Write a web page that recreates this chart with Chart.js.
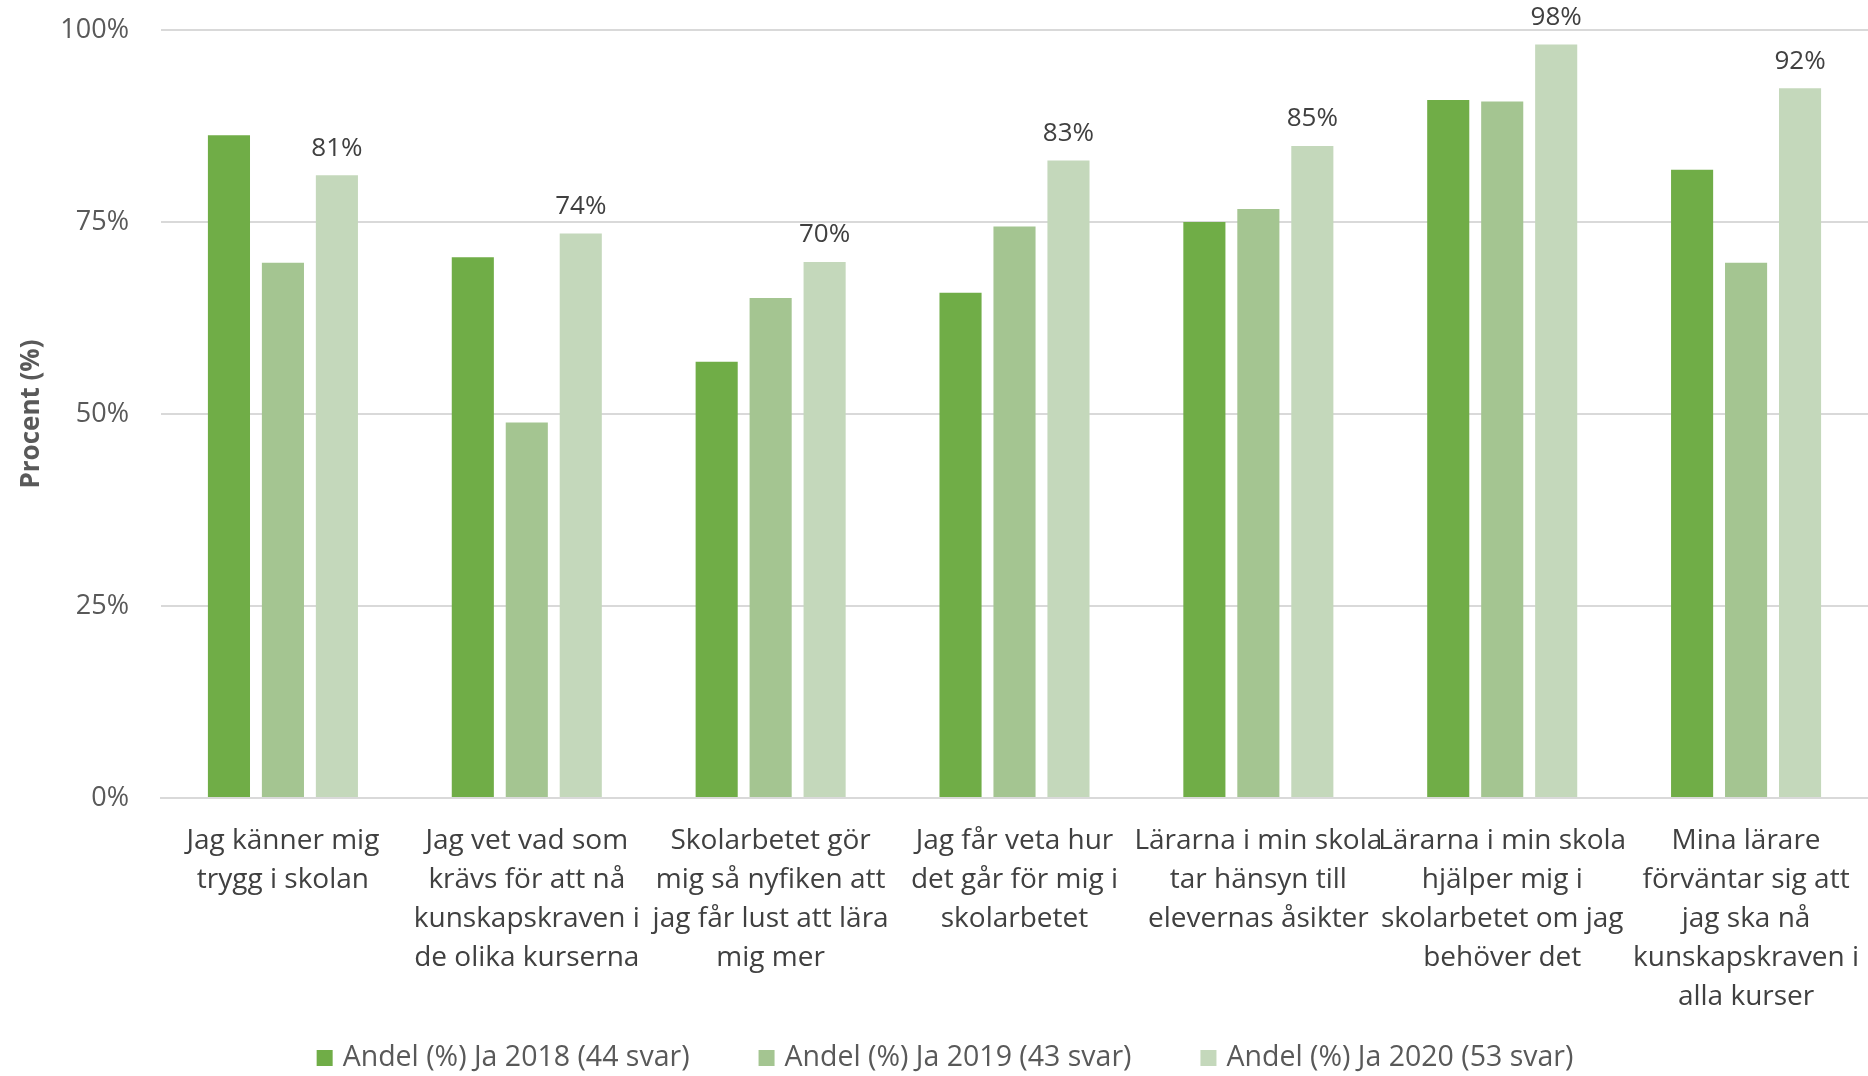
<!DOCTYPE html>
<html lang="sv">
<head>
<meta charset="utf-8">
<title>Andel Ja per påstående</title>
<script src="https://cdn.jsdelivr.net/npm/chart.js@4/dist/chart.umd.min.js"></script>
<style>
  html, body { margin: 0; padding: 0; background: #ffffff; }
  #wrap { width: 1868px; height: 1076px; }
</style>
</head>
<body>
<div id="wrap"><canvas id="chart" width="1868" height="1076"></canvas></div>
<script>
// Kategorier (radbrytningar som i originalet)
const categories = [
    ['Jag känner mig', 'trygg i skolan'],
    ['Jag vet vad som', 'krävs för att nå', 'kunskapskraven i', 'de olika kurserna'],
    ['Skolarbetet gör', 'mig så nyfiken att', 'jag får lust att lära', 'mig mer'],
    ['Jag får veta hur', 'det går för mig i', 'skolarbetet'],
    ['Lärarna i min skola', 'tar hänsyn till', 'elevernas åsikter'],
    ['Lärarna i min skola', 'hjälper mig i', 'skolarbetet om jag', 'behöver det'],
    ['Mina lärare', 'förväntar sig att', 'jag ska nå', 'kunskapskraven i', 'alla kurser']
];

// Serier (procent)
const seriesNames = ['Andel (%) Ja 2018 (44 svar)', 'Andel (%) Ja 2019 (43 svar)', 'Andel (%) Ja 2020 (53 svar)'];
const values2018 = [86.3, 70.4, 56.8, 65.8, 75.0, 90.9, 81.8];
const values2019 = [69.7, 48.9, 65.1, 74.4, 76.7, 90.7, 69.7];
const values2020 = [81.1, 73.5, 69.8, 83.0, 84.9, 98.1, 92.4];

// Y-axel
const yTicks = [0, 25, 50, 75, 100];
const yTitle = 'Procent (%)';

const seriesColors = ['#70ad47', '#a4c591', '#c4d8bb'];
const FONT = "'Open Sans', sans-serif";

// Etiketter ovanför 2020-staplarna
const valueLabels = {
    id: 'valueLabels',
    afterDatasetsDraw(chart) {
        const ctx = chart.ctx;
        const meta = chart.getDatasetMeta(2);
        ctx.save();
        ctx.font = '26px ' + FONT;
        ctx.fillStyle = '#404040';
        ctx.textAlign = 'center';
        ctx.textBaseline = 'middle';
        meta.data.forEach((bar, i) => {
            ctx.fillText(Math.round(values2020[i]) + '%', bar.x, bar.y - 27);
        });
        ctx.restore();
    }
};

// Förklaring längst ner (ritas själv för att få Excel-avstånden)
const bottomLegend = {
    id: 'bottomLegend',
    afterDraw(chart) {
        const ctx = chart.ctx;
        const box = 16, gapText = 10, gapItem = 69, shift = 11;
        const cy = chart.height - 18;
        ctx.save();
        ctx.font = '28.5px ' + FONT;
        ctx.textBaseline = 'middle';
        ctx.textAlign = 'left';
        const items = chart.data.datasets.map(ds => ({
            text: ds.label,
            color: ds.backgroundColor,
            w: box + gapText + ctx.measureText(ds.label).width
        }));
        const total = items.reduce((s, it) => s + it.w, 0) + gapItem * (items.length - 1);
        let x = (chart.width - total) / 2 + shift;
        items.forEach(it => {
            ctx.fillStyle = it.color;
            ctx.fillRect(x, cy - box / 2, box, box);
            ctx.fillStyle = '#595959';
            ctx.fillText(it.text, x + box + gapText, cy);
            x += it.w + gapItem;
        });
        ctx.restore();
    }
};

const ctx = document.getElementById('chart').getContext('2d');
new Chart(ctx, {
    type: 'bar',
    data: {
        labels: categories,
        datasets: [
            { label: seriesNames[0], data: values2018, backgroundColor: seriesColors[0] },
            { label: seriesNames[1], data: values2019, backgroundColor: seriesColors[1] },
            { label: seriesNames[2], data: values2020, backgroundColor: seriesColors[2] }
        ]
    },
    options: {
        responsive: false,
        animation: false,
        devicePixelRatio: 1,
        categoryPercentage: 0.664,
        barPercentage: 0.78,
        layout: { padding: { top: 30, right: 0, bottom: 48, left: 0 } },
        scales: {
            x: {
                grid: { display: false, drawTicks: false },
                border: { color: '#d9d9d9', width: 2 },
                ticks: {
                    color: '#404040',
                    font: { family: FONT, size: 28, lineHeight: 1.4 },
                    maxRotation: 0,
                    minRotation: 0,
                    autoSkip: false,
                    padding: 23
                },
                afterFit(scale) {
                    scale.height = 230;
                    scale.paddingLeft = 0;
                    scale.paddingRight = 0;
                }
            },
            y: {
                min: 0,
                max: 100,
                afterBuildTicks(scale) {
                    scale.ticks = yTicks.map(v => ({ value: v }));
                },
                grid: { color: '#d9d9d9', lineWidth: 2, drawTicks: false },
                border: { display: false },
                ticks: {
                    color: '#595959',
                    font: { family: FONT, size: 27 },
                    padding: 32,
                    callback: v => v + '%'
                },
                title: {
                    display: true,
                    text: yTitle,
                    color: '#595959',
                    font: { family: FONT, size: 26, weight: 'bold' },
                    padding: { top: 16, bottom: 0 }
                },
                afterFit(scale) {
                    scale.width = 161;
                    scale.paddingTop = 0;
                    scale.paddingBottom = 0;
                }
            }
        },
        plugins: {
            legend: { display: false },
            tooltip: { enabled: false }
        }
    },
    plugins: [valueLabels, bottomLegend]
});
</script>
</body>
</html>
